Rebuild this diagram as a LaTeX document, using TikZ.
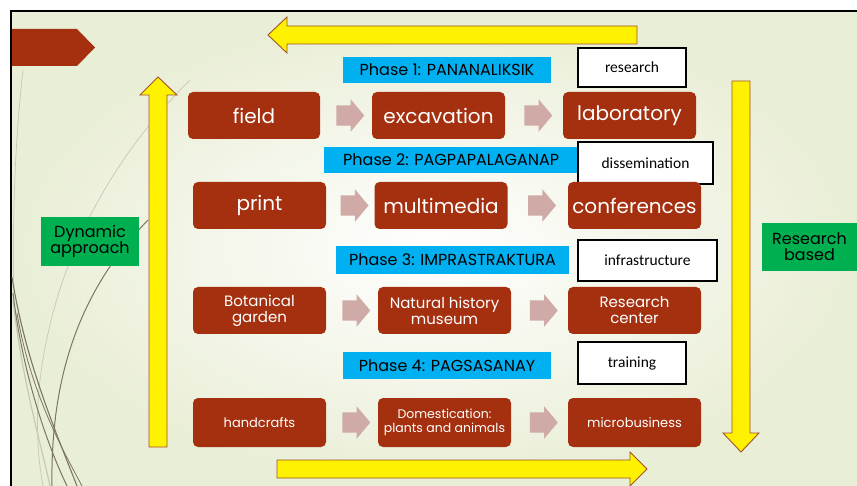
\documentclass[tikz,border=0pt]{standalone}
\usepackage{fontspec}
\setmainfont{Poppins}
\newfontfamily\notefont{Carlito}
\usetikzlibrary{shapes.arrows}
\definecolor{brick}{RGB}{165,48,15}
\definecolor{rose}{RGB}{208,170,167}
\definecolor{skyblue}{RGB}{0,176,240}
\definecolor{leafgreen}{RGB}{0,176,80}
\definecolor{bordeaux}{RGB}{160,82,45}
\definecolor{paleleaf}{RGB}{233,238,214}
\definecolor{wispdark}{RGB}{125,118,95}
\definecolor{wisplight}{RGB}{200,200,185}
\tikzset{
  stepbox/.style={fill=brick, rounded corners=5pt, text=white, align=center,
    minimum width=133pt, minimum height=47pt, inner sep=1pt},
  phasebox/.style={fill=skyblue, text=black, inner sep=0pt, font=\fontsize{16}{18}\selectfont},
  notebox/.style={draw=black, line width=1.3pt, fill=white, inner sep=0pt,
    font=\notefont\fontsize{15.5}{17}\selectfont},
  sidebox/.style={fill=leafgreen, text=black, align=center, inner sep=0pt,
    font=\fontsize{16}{19}\selectfont},
  flowarrow/.style={single arrow, fill=rose, inner xsep=0pt, inner ysep=10pt,
    minimum height=28pt, minimum width=32pt, single arrow head extend=6pt,
    single arrow tip angle=100},
  bigarrow/.style={fill=yellow, draw=bordeaux, line width=0.9pt, line join=miter},
}
\begin{document}
\begin{tikzpicture}[x=1pt,y=-1pt]
\useasboundingbox (0,0) rectangle (857,486);
% slide background
\fill[white] (0,0) rectangle (857,486);
\shade[inner color=white, outer color=paleleaf] (12,12) rectangle (857,486);
\draw[line width=2pt] (11,486) -- (11,11) -- (857,11);
% wisp lines
\draw[wisplight, line width=0.7pt] (23,70) .. controls (15,140) and (12,220) .. (14,300);
\draw[wisplight, line width=0.7pt] (190,80) .. controls (110,160) and (55,260) .. (40,380) .. controls (35,420) and (38,460) .. (43,486);
\draw[wisplight, line width=1.2pt] (13,300) .. controls (22,380) and (40,440) .. (50,486);
\draw[wispdark, line width=1pt] (148,220) .. controls (90,280) and (50,360) .. (52,486);
\draw[wispdark, line width=1.1pt] (12,277) .. controls (25,360) and (55,430) .. (77,486);
\draw[wispdark, line width=1pt] (13,293) .. controls (22,370) and (45,440) .. (67,486);
\draw[wispdark, line width=0.8pt] (17,313) .. controls (30,390) and (60,445) .. (82,486);
% title tag
\fill[brick] (12,29) -- (77,29) -- (95,47.5) -- (77,66) -- (12,66) -- cycle;
% yellow cycle arrows
\draw[bigarrow] (637,26) -- (287,26) -- (287,17) -- (268,35) -- (287,53) -- (287,44) -- (637,44) -- cycle;
\draw[bigarrow] (149,447) -- (149,95) -- (140,95) -- (158,77) -- (177,95) -- (167,95) -- (167,447) -- cycle;
\draw[bigarrow] (732,81) -- (750,81) -- (750,433) -- (759,433) -- (741,452) -- (723,433) -- (732,433) -- cycle;
\draw[bigarrow] (277,460) -- (630,460) -- (630,452) -- (647,469) -- (630,486) -- (630,478) -- (277,478) -- cycle;
% side labels
\node[sidebox, minimum width=98pt, minimum height=49pt] (dynamic) at (90,241.5) {Dynamic\\[-3pt]approach};
\node[sidebox, minimum width=95pt, minimum height=48pt] (based) at (809.5,247) {Research\\[-3pt]based};
% phase 1
\node[phasebox, minimum width=208pt, minimum height=26pt] (phaseA) at (447,70) {Phase 1: PANANALIKSIK};
\node[notebox, minimum width=108pt, minimum height=39pt] (research) at (632,67.5) {research};
\node[stepbox, minimum width=132pt, font=\fontsize{20}{22}\selectfont] (field) at (254,115.5) {field};
\node[stepbox, font=\fontsize{20}{22}\selectfont] (excavation) at (438.5,115.5) {excavation};
\node[stepbox, font=\fontsize{20}{22}\selectfont] (laboratory) at (629.5,115.5) {laboratory};
% phase 2
\node[phasebox, anchor=west, minimum width=254pt, minimum height=26pt] (phaseB) at (324,160) {Phase 2: PAGPAPALAGANAP};
\node[notebox, minimum width=135pt, minimum height=42pt] (dissemination) at (645.5,163) {dissemination};
\node[stepbox, font=\fontsize{20}{22}\selectfont] (print) at (259.5,205.5) {print};
\node[stepbox, font=\fontsize{20}{22}\selectfont] (multimedia) at (441,205.5) {multimedia};
\node[stepbox, font=\fontsize{20}{22}\selectfont] (conferences) at (634.5,205.5) {conferences};
% phase 3
\node[phasebox, minimum width=233pt, minimum height=28pt] (phaseC) at (452.5,260) {Phase 3: IMPRASTRAKTURA};
\node[notebox, minimum width=139pt, minimum height=41pt] (infrastructure) at (647.5,260.5) {infrastructure};
\node[stepbox, font=\fontsize{15}{16}\selectfont] (botanical) at (259.5,310.5) {Botanical\\garden};
\node[stepbox, font=\fontsize{15}{16}\selectfont] (museum) at (444.5,310.5) {Natural history\\museum};
\node[stepbox, font=\fontsize{15}{16}\selectfont] (center) at (634.5,310.5) {Research\\center};
% phase 4
\node[phasebox, minimum width=208pt, minimum height=27pt] (phaseD) at (447,365.5) {Phase 4: PAGSASANAY};
\node[notebox, minimum width=108pt, minimum height=42pt] (training) at (632,363) {training};
\node[stepbox, minimum height=49pt, font=\fontsize{13}{14}\selectfont] (handcrafts) at (259.5,422.5) {handcrafts};
\node[stepbox, minimum height=49pt, font=\fontsize{12.5}{14}\selectfont] (domestication) at (444.5,422.5) {Domestication:\\plants and animals};
\node[stepbox, minimum height=49pt, font=\fontsize{13}{14}\selectfont] (microbusiness) at (634.5,422.5) {microbusiness};
% flow arrows between steps
\foreach \a/\b in {field/excavation, excavation/laboratory, print/multimedia, multimedia/conferences,
    botanical/museum, museum/center, handcrafts/domestication, domestication/microbusiness}
  \path (\a) -- (\b) node[midway, flowarrow] {};
\end{tikzpicture}
\end{document}
